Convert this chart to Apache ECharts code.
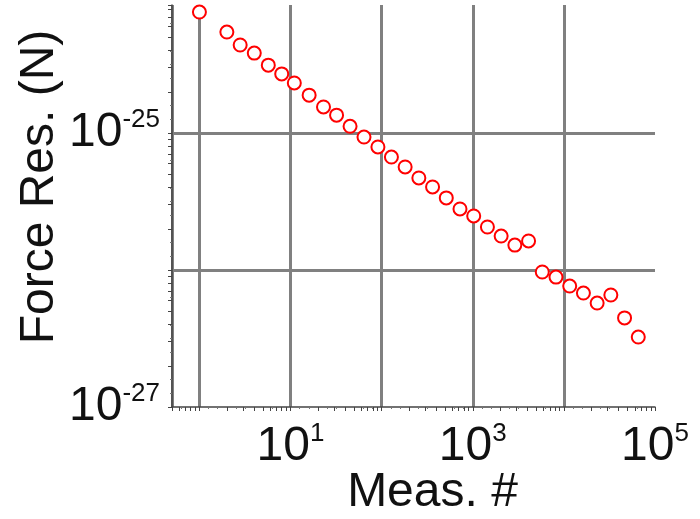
<!DOCTYPE html>
<html>
<head>
<meta charset="utf-8">
<script src="https://cdn.jsdelivr.net/npm/echarts@6/dist/echarts.min.js"></script>
<style>
  html, body { margin: 0; padding: 0; background: #fff; }
  #graph { width: 700px; height: 519px; }
</style>
</head>
<body>
<div id="graph"></div>
<script>
"use strict"

const measNo = [1, 2, 2.8, 4, 5.7, 8, 11, 16, 23, 32, 45, 64, 91, 128, 181, 256,
    362, 512, 724, 1024, 1448, 2048, 2896, 4096, 5793, 8192, 11585, 16384, 23170,
    32768, 46341, 65536];
const forceRes = [7.64e-25, 5.46e-25, 4.39e-25, 3.83e-25, 3.13e-25, 2.70e-25, 2.32e-25,
    1.89e-25, 1.55e-25, 1.35e-25, 1.12e-25, 9.35e-26, 7.91e-26, 6.68e-26, 5.65e-26,
    4.70e-26, 4.04e-26, 3.36e-26, 2.79e-26, 2.48e-26, 2.06e-26, 1.77e-26, 1.52e-26,
    1.63e-26, 9.67e-27, 8.88e-27, 7.64e-27, 6.79e-27, 5.74e-27, 6.57e-27, 4.47e-27,
    3.24e-27];
// axis ranges (real units) and which decades carry a label
const xRange = [0.5, 1e5];
const yRange = [1e-27, 8.6e-25];
const xLabelExps = [1, 3, 5];
const yLabelExps = [-25, -27];
const xDecades = [-1, 0, 1, 2, 3, 4];
const yDecades = [-28, -27, -26, -25];
const minorMults = [2, 3, 4, 5, 6, 7, 8, 9];

const lg = Math.log10;
const font = "Liberation Sans, Arial, sans-serif";
const richLbl = {
    b: { fontSize: 48, fontFamily: font, color: "#111", lineHeight: 52 },
    s: { fontSize: 26, fontFamily: font, color: "#111", verticalAlign: "top", lineHeight: 52, padding: [0, 0, 14, 0] }
};

function powLabel(exps)
{
    return v =>
    {
        const r = Math.round(v);
        if (Math.abs(v - r) > 1e-6 || !exps.includes(r)) return "";
        return "{b|10}{s|" + r + "}";
    };
}

// log-spaced minor tick positions (2..9 of each decade) inside the range
function logMinors(decades, range)
{
    const out = [];
    decades.forEach(d => minorMults.forEach(m =>
    {
        const v = lg(m) + d;
        if (v > lg(range[0]) && v < lg(range[1])) out.push(v);
    }));
    return out;
}

const gridStyle = { color: "#808080", width: 3 };
const axisLine = { show: true, onZero: false, lineStyle: { color: "#444", width: 1.5 } };
const nameStyle = { fontSize: 48, fontFamily: font, color: "#111", padding: [0, 0, 0, 38] };

const myChart = echarts.init(document.getElementById("graph"), null, { renderer: "canvas" });

const option = {
    animation: false,
    backgroundColor: "#fff",
    grid: { left: 172, right: 45, top: 5, bottom: 112, outerBoundsMode: "none" },
    xAxis: [{
        type: "value",
        min: lg(xRange[0]),
        max: lg(xRange[1]),
        splitNumber: 5,
        axisLine: axisLine,
        axisTick: { show: true, length: 4, lineStyle: { color: "#444" } },
        minorTick: { show: true, splitNumber: 10, length: 2, lineStyle: { color: "#777" } },
        splitLine: { show: true, showMinLine: true, showMaxLine: false, lineStyle: gridStyle },
        axisLabel: { formatter: powLabel(xLabelExps), rich: richLbl, margin: 14 },
        name: "Meas. #",
        nameLocation: "middle",
        nameGap: 62,
        nameMoveOverlap: false,
        nameTextStyle: nameStyle
    }, {
        type: "value",
        position: "bottom",
        min: lg(xRange[0]),
        max: lg(xRange[1]),
        axisLine: { show: false, onZero: false },
        axisTick: { show: true, length: 4, customValues: logMinors(xDecades, xRange), lineStyle: { color: "#444" } },
        axisLabel: { show: false },
        splitLine: { show: false }
    }],
    yAxis: [{
        type: "value",
        min: lg(yRange[0]),
        max: lg(yRange[1]),
        interval: 1,
        axisLine: axisLine,
        axisTick: { show: true, length: 4, lineStyle: { color: "#444" } },
        minorTick: { show: true, splitNumber: 10, length: 2, lineStyle: { color: "#777" } },
        splitLine: { show: true, showMinLine: false, showMaxLine: false, lineStyle: gridStyle },
        axisLabel: { formatter: powLabel(yLabelExps), rich: richLbl, margin: 12 },
        name: "Force Res. (N)",
        nameLocation: "middle",
        nameGap: 108,
        nameMoveOverlap: false,
        nameTextStyle: nameStyle
    }, {
        type: "value",
        position: "left",
        min: lg(yRange[0]),
        max: lg(yRange[1]),
        axisLine: { show: false, onZero: false },
        axisTick: { show: true, length: 4, customValues: logMinors(yDecades, yRange), lineStyle: { color: "#444" } },
        axisLabel: { show: false },
        splitLine: { show: false }
    }],
    series: [{
        type: "scatter",
        xAxisIndex: 0,
        yAxisIndex: 0,
        data: measNo.map((m, i) => [lg(m), lg(forceRes[i])]),
        symbol: "circle",
        symbolSize: 13,
        itemStyle: { color: "#fff", borderColor: "#ff0000", borderWidth: 2, opacity: 1 }
    }]
};

myChart.setOption(option);
</script>
</body>
</html>
